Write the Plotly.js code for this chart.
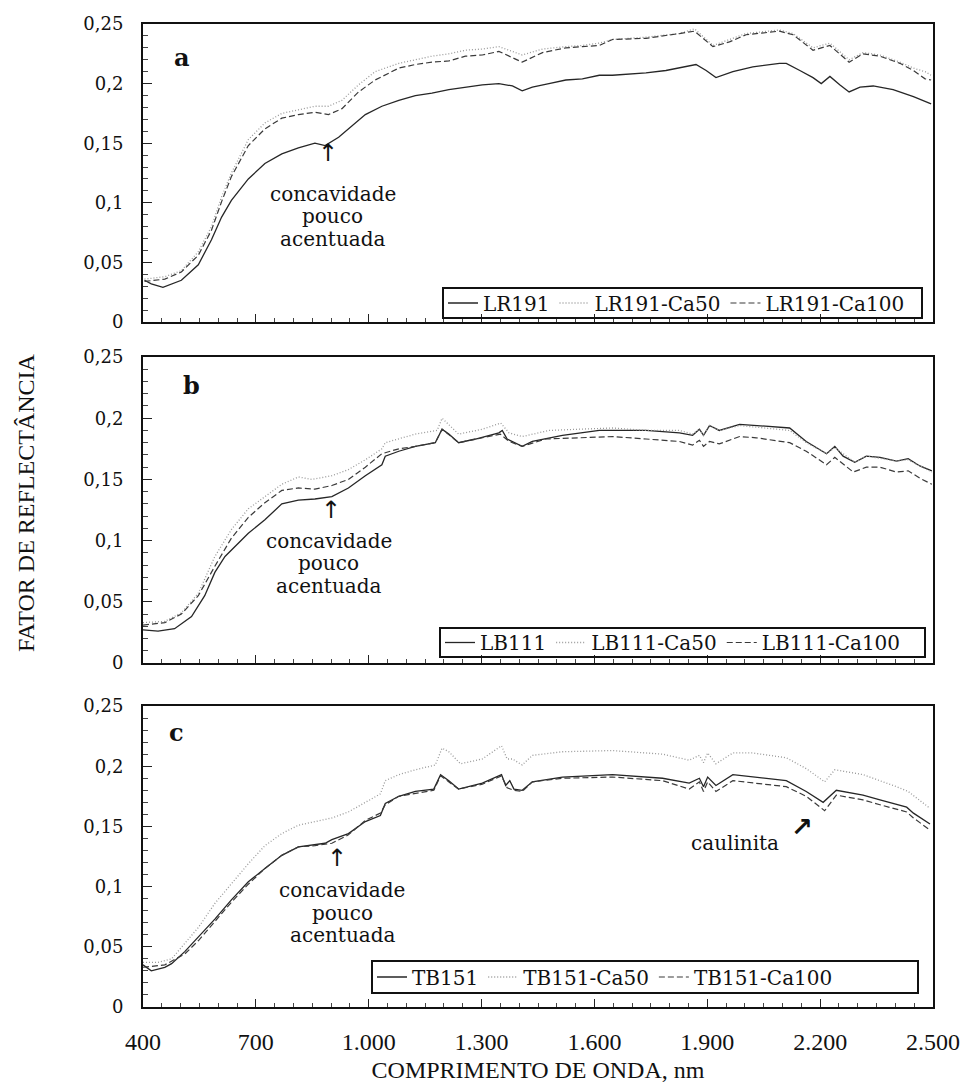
<!DOCTYPE html>
<html>
<head>
<meta charset="utf-8">
<script src="https://cdn.plot.ly/plotly-3.0.1.min.js"></script>
<style>html,body{margin:0;padding:0;background:#fff;}#chart{width:963px;height:1083px;}</style>
</head>
<body>
<div id="chart"></div>
<script>
// ---------- Panel a ----------
const nmA1 = [404,422,453,502,547,582,609,635,680,724,769,813,857,884,920,955,991,1035,1080,1124,1168,1213,1257,1302,1346,1382,1408,1435,1479,1524,1568,1613,1648,1737,1790,1870,1897,1923,1968,2021,2092,2110,2146,2181,2203,2226,2252,2277,2306,2341,2394,2448,2495];
const LR191 = [.035,.032,.029,.035,.048,.069,.088,.102,.120,.133,.141,.146,.150,.148,.155,.164,.174,.181,.186,.190,.192,.195,.197,.199,.200,.198,.194,.197,.200,.203,.204,.207,.207,.209,.211,.216,.211,.205,.210,.214,.217,.217,.211,.205,.200,.206,.199,.193,.197,.198,.195,.189,.183];
const nmA2 = [404,458,502,547,582,609,635,680,724,769,813,857,893,929,973,1017,1080,1124,1168,1213,1257,1302,1346,1408,1462,1524,1568,1613,1648,1737,1826,1866,1915,1959,2003,2092,2128,2181,2226,2277,2314,2359,2412,2448,2479,2495];
const LR191_Ca50 = [.036,.038,.043,.059,.080,.105,.125,.153,.167,.175,.178,.181,.181,.186,.199,.210,.217,.220,.223,.225,.228,.229,.231,.224,.229,.231,.232,.234,.237,.239,.242,.246,.232,.237,.242,.245,.242,.230,.234,.220,.226,.224,.218,.213,.210,.207];
const LR191_Ca100 = [.034,.036,.042,.056,.077,.101,.122,.148,.162,.171,.174,.176,.174,.179,.193,.203,.213,.216,.218,.219,.223,.224,.227,.218,.226,.230,.231,.232,.237,.238,.242,.244,.231,.235,.241,.244,.241,.228,.232,.218,.225,.223,.217,.211,.204,.203];

// ---------- Panel b ----------
const nmB1 = [400,440,484,529,564,591,618,644,680,724,769,813,857,902,946,991,1035,1044,1080,1124,1177,1195,1213,1239,1284,1346,1355,1368,1386,1408,1435,1515,1613,1648,1737,1826,1861,1879,1890,1906,1932,1986,2030,2119,2163,2217,2239,2261,2292,2323,2359,2403,2434,2465,2497];
const LB111 = [.027,.026,.028,.038,.055,.074,.087,.095,.106,.117,.130,.133,.134,.136,.143,.153,.162,.169,.173,.177,.180,.191,.187,.180,.183,.188,.190,.183,.180,.177,.181,.186,.190,.190,.190,.188,.186,.191,.186,.194,.190,.195,.194,.192,.181,.171,.177,.169,.164,.169,.168,.165,.167,.161,.157];
const nmB2 = [400,458,502,547,591,635,680,724,769,813,849,902,946,991,1035,1044,1124,1182,1195,1239,1302,1351,1373,1408,1479,1560,1648,1737,1826,1861,1879,1890,1906,1932,1986,2119,2163,2217,2239,2292,2323,2403,2434,2497];
const LB111_Ca50 = [.033,.034,.041,.057,.087,.109,.126,.136,.146,.152,.150,.153,.158,.166,.175,.180,.187,.190,.200,.187,.191,.196,.188,.185,.190,.191,.192,.190,.190,.187,.191,.186,.194,.190,.194,.190,.180,.171,.176,.164,.169,.165,.166,.156];
const nmB3 = [400,458,502,547,591,635,680,724,769,813,857,902,946,991,1035,1080,1124,1177,1195,1239,1350,1373,1408,1470,1560,1648,1737,1826,1861,1879,1890,1906,1932,1986,2030,2119,2163,2217,2239,2288,2323,2359,2403,2434,2465,2497];
const LB111_Ca100 = [.031,.033,.040,.055,.079,.102,.119,.131,.141,.143,.142,.145,.150,.160,.171,.175,.177,.180,.191,.180,.187,.181,.177,.183,.184,.185,.183,.181,.178,.182,.177,.181,.179,.185,.184,.180,.173,.162,.168,.156,.160,.160,.156,.157,.151,.146];

// ---------- Panel c ----------
const nmC1 = [400,422,458,476,511,547,591,635,680,724,769,813,857,884,902,946,991,1031,1044,1080,1124,1173,1191,1213,1239,1302,1353,1364,1375,1386,1408,1435,1515,1648,1781,1852,1879,1890,1901,1923,1968,2021,2110,2163,2208,2243,2314,2359,2430,2448,2492];
const TB151 = [.035,.030,.033,.036,.046,.058,.073,.089,.104,.115,.126,.133,.135,.136,.139,.144,.154,.159,.169,.175,.179,.181,.193,.188,.181,.186,.193,.184,.188,.181,.180,.187,.191,.193,.190,.186,.190,.183,.191,.184,.193,.191,.188,.179,.170,.180,.176,.172,.166,.161,.152];
const nmC2 = [400,440,476,511,547,591,635,680,724,769,813,857,902,946,991,1031,1044,1080,1124,1177,1195,1213,1244,1302,1353,1368,1382,1408,1435,1515,1648,1781,1852,1879,1890,1901,1923,1968,2021,2110,2163,2212,2239,2314,2403,2434,2492];
const TB151_Ca50 = [.037,.037,.040,.053,.066,.086,.102,.119,.134,.144,.151,.154,.157,.162,.170,.177,.188,.193,.197,.201,.215,.212,.202,.206,.217,.206,.206,.201,.209,.212,.213,.210,.205,.209,.203,.211,.202,.211,.211,.207,.198,.187,.197,.193,.183,.179,.165];
const nmC3 = [400,458,511,547,591,635,680,724,769,813,857,902,946,991,1031,1044,1080,1173,1191,1239,1302,1353,1368,1386,1408,1435,1515,1648,1781,1852,1879,1890,1901,1923,1968,2021,2110,2163,2212,2243,2314,2359,2430,2448,2492];
const TB151_Ca100 = [.033,.035,.044,.055,.071,.087,.102,.115,.126,.133,.134,.136,.143,.155,.161,.168,.175,.180,.192,.181,.185,.192,.182,.180,.179,.187,.190,.191,.188,.181,.187,.179,.187,.179,.188,.186,.183,.175,.163,.176,.172,.168,.162,.157,.147];

// ---------- Text ----------
const seriesNames = [["LR191","LR191-Ca50","LR191-Ca100"],["LB111","LB111-Ca50","LB111-Ca100"],["TB151","TB151-Ca50","TB151-Ca100"]];
const panelLetters = ["a","b","c"];
const xTitle = "COMPRIMENTO DE ONDA, nm";
const yTitle = "FATOR DE REFLECTÂNCIA";
const noteLines = ["concavidade","pouco","acentuada"];
const kaoliniteText = "caulinita";

const serif = "DejaVu Serif, serif";
const times = "Liberation Serif, Times New Roman, serif";
const styles = [
  {color:"#262626", width:1.3, dash:"solid"},
  {color:"#9a9a9a", width:1.3, dash:"1px,2px"},
  {color:"#3a3a3a", width:1.2, dash:"6px,3px"}
];

const data = [
  [nmA1, LR191], [nmA2, LR191_Ca50], [nmA2, LR191_Ca100],
  [nmB1, LB111], [nmB2, LB111_Ca50], [nmB3, LB111_Ca100],
  [nmC1, TB151], [nmC2, TB151_Ca50], [nmC3, TB151_Ca100]
];
const traces = data.map((d, i) => {
  const p = Math.floor(i / 3), s = i % 3;
  const sfx = p === 0 ? "" : String(p + 1);
  return {
    type: "scatter", mode: "lines", x: d[0], y: d[1],
    name: seriesNames[p][s],
    xaxis: "x" + sfx, yaxis: "y" + sfx,
    legend: p === 0 ? "legend" : "legend" + (p + 1),
    line: styles[s], hoverinfo: "skip"
  };
});

const W = 963, H = 1083;
const xDom = [143/W, 933/W];
const yDoms = [[1-322/H, 1-24/H],[1-663/H, 1-357/H],[1-1007/H, 1-706/H]];

function xAxis(i) {
  return {
    domain: xDom, range: [400, 2500], anchor: i === 0 ? "y" : "y" + (i + 1),
    showline: true, linewidth: 2, linecolor: "#111", mirror: true,
    ticks: "inside", ticklen: 8, tickwidth: 1, tickcolor: "#222",
    tick0: 400, dtick: 300, separatethousands: true,
    minor: {dtick: 50, ticks: "inside", ticklen: 4, tickwidth: 1, tickcolor: "#444"},
    showgrid: false, zeroline: false, automargin: false,
    showticklabels: i === 2,
    tickfont: {family: times, size: 24, color: "#111"},
    ticklabelstandoff: 12,
    title: i === 2 ? {text: xTitle, font: {family: times, size: 24, color: "#111"}, standoff: 10} : {text: ""}
  };
}
function yAxis(i) {
  return {
    domain: yDoms[i], range: [0, 0.25], anchor: i === 0 ? "x" : "x" + (i + 1),
    showline: true, linewidth: 2, linecolor: "#111", mirror: true,
    ticks: "inside", ticklen: 9, tickwidth: 1, tickcolor: "#222",
    tick0: 0, dtick: 0.05,
    minor: {dtick: 0.01, ticks: "inside", ticklen: 5, tickwidth: 1, tickcolor: "#444"},
    showgrid: false, zeroline: false, automargin: false,
    tickfont: {family: serif, size: 18, color: "#111"},
    ticklabelstandoff: 14
  };
}
// legend boxes [left, right, top, bottom] in px
const boxes = [[443, 922, 288, 318], [440, 925, 628, 657], [372, 918, 961, 993]];
function legend(i) {
  const b = boxes[i];
  return {
    x: b[0]/W, y: 1 - (b[2] + b[3]) / 2 / H, xref: "paper", yref: "paper",
    xanchor: "left", yanchor: "middle",
    orientation: "h", bgcolor: "rgba(0,0,0,0)", borderwidth: 0,
    font: {family: serif, size: 20, color: "#111"},
    itemwidth: 30, traceorder: "normal"
  };
}
const shapes = boxes.map(b => ({
  type: "rect", xref: "paper", yref: "paper", layer: "above",
  x0: b[0]/W, x1: b[1]/W, y0: 1 - b[3]/H, y1: 1 - b[2]/H,
  line: {color: "#111", width: 2}, fillcolor: "rgba(0,0,0,0)"
}));

const ann = [];
const refs = [["x","y"],["x2","y2"],["x3","y3"]];
const letterPos = [[504, 0.2223], [530, 0.2271], [490, 0.2284]];
panelLetters.forEach((t, i) => ann.push({
  text: "<b>" + t + "</b>", x: letterPos[i][0], y: letterPos[i][1], xref: refs[i][0], yref: refs[i][1],
  showarrow: false, font: {family: serif, size: 24, color: "#111"}
}));
const arrowPos = [[892, 0.142], [900, 0.125], [916, 0.1238]];
const notePos = [[905, 0.0889], [894, 0.0817], [929, 0.0781]];
for (let i = 0; i < 3; i++) {
  ann.push({text: "↑", x: arrowPos[i][0], y: arrowPos[i][1], xref: refs[i][0], yref: refs[i][1],
    showarrow: false, font: {family: "DejaVu Sans, sans-serif", size: 24, color: "#111"}});
  noteLines.forEach((t, k) => ann.push({text: t, x: notePos[i][0], y: notePos[i][1], xref: refs[i][0], yref: refs[i][1],
    yshift: (1 - k) * 22.5, showarrow: false, font: {family: serif, size: 20, color: "#111"}}));
}
ann.push({text: kaoliniteText, x: 1974, y: 0.1362, xref: "x3", yref: "y3", showarrow: false,
  font: {family: serif, size: 20, color: "#111"}});
ann.push({text: "<b>↗</b>", x: 2152, y: 0.1495, xref: "x3", yref: "y3", showarrow: false,
  font: {family: "DejaVu Sans, sans-serif", size: 26, color: "#111"}});
ann.push({text: yTitle, x: 26/W, y: 1-503/H, xref: "paper", yref: "paper", showarrow: false,
  textangle: -90, xanchor: "center", yanchor: "middle", font: {family: times, size: 24, color: "#111"}});

const layout = {
  width: W, height: H, margin: {l: 0, r: 0, t: 0, b: 0},
  paper_bgcolor: "#fff", plot_bgcolor: "#fff",
  separators: ",.",
  showlegend: true,
  xaxis: xAxis(0), yaxis: yAxis(0),
  xaxis2: xAxis(1), yaxis2: yAxis(1),
  xaxis3: xAxis(2), yaxis3: yAxis(2),
  legend: legend(0), legend2: legend(1), legend3: legend(2),
  shapes: shapes,
  annotations: ann
};

Plotly.newPlot("chart", traces, layout, {displayModeBar: false, staticPlot: true});
</script>
</body>
</html>
